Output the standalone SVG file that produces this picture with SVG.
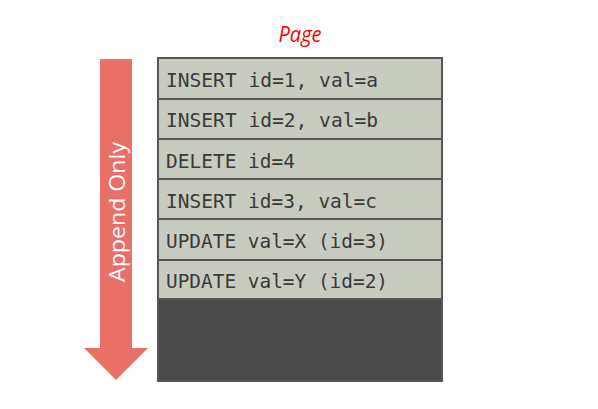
<svg xmlns="http://www.w3.org/2000/svg" width="598" height="409" viewBox="0 0 598 409">
<style>
.row rect{fill:#C8CBC0;stroke:#555;stroke-width:2}
.row text{font-family:"DejaVu Sans Mono",monospace;font-size:19px;fill:#3a3a3a}
</style>
<rect width="598" height="409" fill="#fff"/>
<g id="title"><text x="300" y="42" text-anchor="middle" font-family="Open Sans, Liberation Sans, sans-serif" font-style="italic" font-size="21" fill="#FF0000" textLength="43" lengthAdjust="spacingAndGlyphs">Page</text></g>
<g id="arrow">
<polygon points="100,59 132,59 132,348 148,348 116,380 84,348 100,348" fill="#E87068"/>
<text transform="translate(125,212) rotate(-90)" text-anchor="middle" font-family="Open Sans, Liberation Sans, sans-serif" font-size="22" fill="#fff" textLength="140" lengthAdjust="spacingAndGlyphs">Append Only</text>
</g>
<g id="page">
<rect x="158" y="299" width="284" height="82" fill="#4A4A4A" stroke="#555" stroke-width="2"/>
<g class="row" id="r1"><rect x="158" y="58" width="284" height="41"/><text x="166" y="87" textLength="212" lengthAdjust="spacingAndGlyphs">INSERT id=1, val=a</text></g>
<g class="row" id="r2"><rect x="158" y="99" width="284" height="40"/><text x="166" y="127" textLength="212" lengthAdjust="spacingAndGlyphs">INSERT id=2, val=b</text></g>
<g class="row" id="r3"><rect x="158" y="139" width="284" height="40"/><text x="166" y="168" textLength="129" lengthAdjust="spacingAndGlyphs">DELETE id=4</text></g>
<g class="row" id="r4"><rect x="158" y="179" width="284" height="40"/><text x="166" y="208" textLength="211" lengthAdjust="spacingAndGlyphs">INSERT id=3, val=c</text></g>
<g class="row" id="r5"><rect x="158" y="219" width="284" height="41"/><text x="166" y="248" textLength="222" lengthAdjust="spacingAndGlyphs">UPDATE val=X (id=3)</text></g>
<g class="row" id="r6"><rect x="158" y="260" width="284" height="39"/><text x="166" y="288" textLength="222" lengthAdjust="spacingAndGlyphs">UPDATE val=Y (id=2)</text></g>
</g>
</svg>
